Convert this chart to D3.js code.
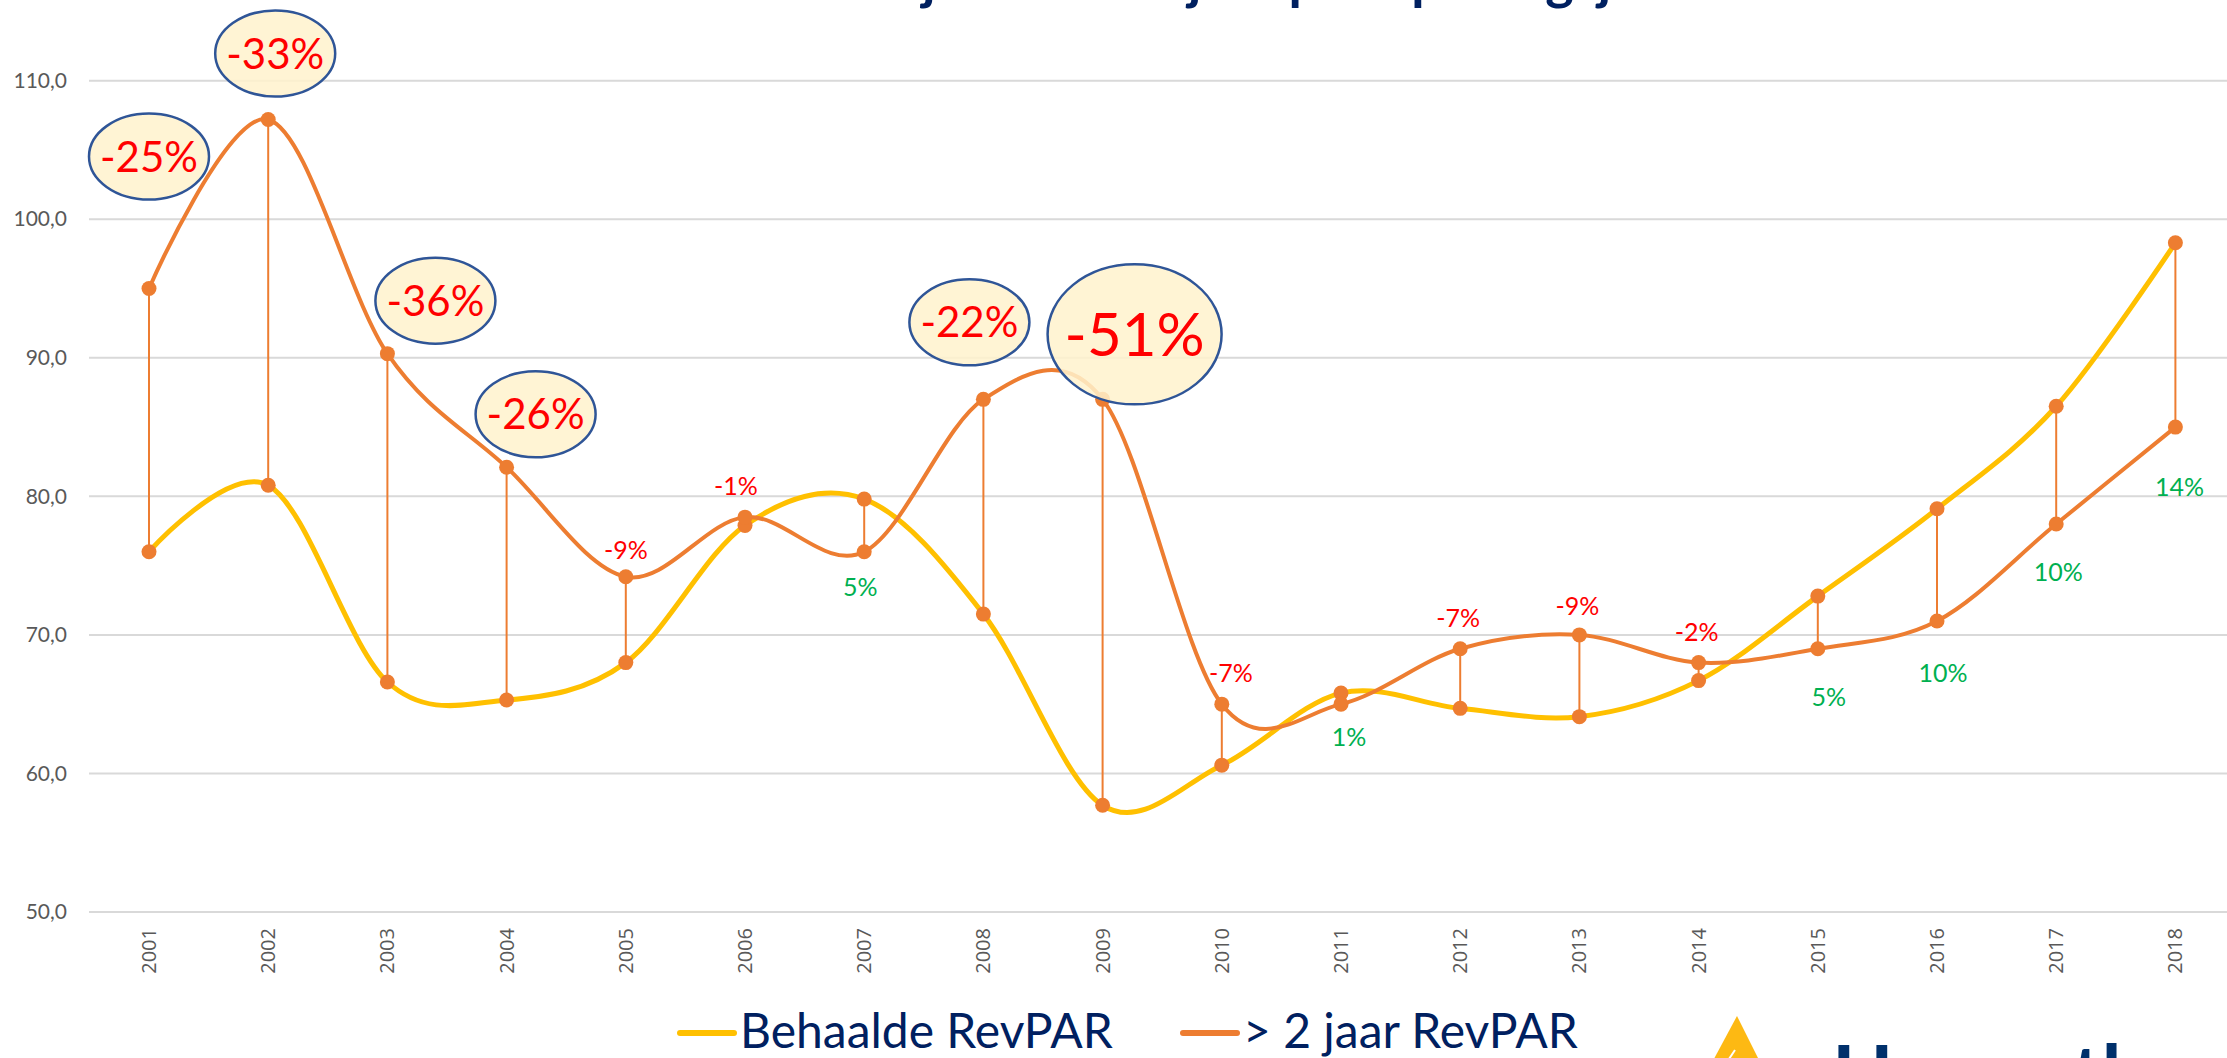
<!DOCTYPE html>
<html>
<head>
<meta charset="utf-8">
<script src="https://cdn.jsdelivr.net/npm/d3@7"></script>
<style>
body { margin: 0; background: #fff; overflow: hidden; }
svg { display: block; }
</style>
</head>
<body>
<script>
// data
var jaren = ["2001", "2002", "2003", "2004", "2005", "2006", "2007", "2008", "2009",
	"2010", "2011", "2012", "2013", "2014", "2015", "2016", "2017", "2018"];
var behaald = [76.0, 80.8, 66.6, 65.3, 68.0, 77.9, 79.8, 71.5, 57.7,
	60.6, 65.8, 64.7, 64.1, 66.7, 72.8, 79.1, 86.5, 98.3];
var tweeJaar = [95.0, 107.2, 90.3, 82.1, 74.2, 78.5, 76.0, 87.0, 87.0,
	65.0, 65.0, 69.0, 70.0, 68.0, 69.0, 71.0, 78.0, 85.0];
var verschil = ["-25%", "-33%", "-36%", "-26%", "-9%", "-1%", "5%", "-22%", "-51%",
	"-7%", "1%", "-7%", "-9%", "-2%", "5%", "10%", "10%", "14%"];
var yTicks = [50, 60, 70, 80, 90, 100, 110];
var reeksen = ["Behaalde RevPAR", "> 2 jaar RevPAR"];

// where each label sits relative to the orange point: [dx, dy, kind]
// kind 0 = plain label, 1 = ellipse callout, 2 = big ellipse callout
var labelPlek = [[0, -132, 1], [7, -66, 1], [48, -53, 1], [29, -53, 1], [0, -27, 0], [-9, -31, 0],
	[-4, 35, 0], [-14, -77, 1], [32, -65, 2], [9, -31, 0], [8, 33, 0], [-2, -31, 0],
	[-2, -29, 0], [-2, -31, 0], [11, 48, 0], [6, 52, 0], [2, 48, 0], [4, 60, 0]];

var W = 2227, H = 1058;
var svg = d3.select("body").append("svg").attr("width", W).attr("height", H);

var x = d3.scaleBand().domain(jaren).range([89.4, 89.4 + 18 * 119.2]);
var y = d3.scaleLinear().domain([50, 110]).range([912, 80.7]);
var cx = function(d, i) { return x(jaren[i]) + x.bandwidth() / 2; };

var orange = "#ED7D31", yellow = "#FFC000", navy = "#002060";

// title, mostly above the top edge (as in the reference)
svg.append("text")
	.attr("x", 1120).attr("y", -1)
	.attr("text-anchor", "middle")
	.attr("font-family", "Lato, sans-serif").attr("font-weight", 700).attr("font-size", 54)
	.attr("fill", navy)
	.text("RevPAR eerste jaar vs. > 2 jaar per openingsjaar");

// gridlines + y labels
var grid = svg.append("g");
grid.selectAll("line").data(yTicks).enter().append("line")
	.attr("x1", 89).attr("x2", W)
	.attr("y1", function(d) { return y(d); }).attr("y2", function(d) { return y(d); })
	.attr("stroke", "#D9D9D9").attr("stroke-width", 2);

var fmt = function(d) { return d3.format(".1f")(d).replace(".", ","); };
var yAxis = svg.append("g").attr("transform", "translate(67,0)")
	.call(d3.axisLeft(y).tickValues(yTicks).tickFormat(fmt).tickSize(0).tickPadding(0));
yAxis.select(".domain").remove();
yAxis.selectAll("text")
	.attr("font-family", "Lato, sans-serif").attr("font-size", 21).attr("fill", "#595959");

// x labels, rotated
var xAxis = svg.append("g").attr("transform", "translate(0,928)")
	.call(d3.axisBottom(x).tickSize(0).tickPadding(0));
xAxis.select(".domain").remove();
xAxis.selectAll("text")
	.attr("transform", "rotate(-90)")
	.attr("text-anchor", "end")
	.attr("x", 0).attr("y", 0).attr("dy", "0.35em")
	.attr("font-family", "'Open Sans', sans-serif").attr("font-size", 20).attr("fill", "#595959");

// smoothed lines
var line = d3.line()
	.x(cx)
	.y(function(d) { return y(d); })
	.curve(d3.curveCardinal.tension(0));

svg.append("path").datum(behaald)
	.attr("d", line).attr("fill", "none")
	.attr("stroke", yellow).attr("stroke-width", 5).attr("stroke-linecap", "round");

svg.append("path").datum(tweeJaar)
	.attr("d", line).attr("fill", "none")
	.attr("stroke", orange).attr("stroke-width", 4).attr("stroke-linecap", "round");

// drop lines between the two series
svg.append("g").selectAll("line").data(jaren).enter().append("line")
	.attr("x1", cx).attr("x2", cx)
	.attr("y1", function(d, i) { return y(behaald[i]); })
	.attr("y2", function(d, i) { return y(tweeJaar[i]); })
	.attr("stroke", orange).attr("stroke-width", 2);

var dots = svg.append("g");
[behaald, tweeJaar].forEach(function(reeks) {
	dots.selectAll(null).data(reeks).enter().append("circle")
		.attr("cx", cx)
		.attr("cy", function(d) { return y(d); })
		.attr("r", 7.5)
		.attr("fill", orange);
});

// percentage labels
var labels = svg.append("g");
verschil.forEach(function(txt, i) {
	var p = labelPlek[i];
	var lx = cx(null, i) + p[0];
	var ly = y(tweeJaar[i]) + p[1];
	var neg = txt.charAt(0) == "-";
	if (p[2] > 0) {
		var big = p[2] == 2;
		labels.append("ellipse")
			.attr("cx", lx).attr("cy", ly)
			.attr("rx", big ? 87 : 60).attr("ry", big ? 70 : 43)
			.attr("fill", "#FFF2CC").attr("fill-opacity", 0.85)
			.attr("stroke", "#2F5597").attr("stroke-width", 2.5);
	}
	labels.append("text")
		.attr("x", lx).attr("y", ly)
		.attr("dy", "0.36em")
		.attr("text-anchor", "middle")
		.attr("font-family", "Lato, sans-serif")
		.attr("font-size", p[2] == 2 ? 60 : (p[2] == 1 ? 42 : 25))
		.attr("fill", neg ? "#FF0000" : "#00B050")
		.text(txt);
});

// legend
var legend = svg.append("g");
var legX = [680, 1183];
[yellow, orange].forEach(function(c, i) {
	legend.append("line")
		.attr("x1", legX[i]).attr("x2", legX[i] + 54)
		.attr("y1", 1033).attr("y2", 1033)
		.attr("stroke", c).attr("stroke-width", 6).attr("stroke-linecap", "round");
	legend.append("text")
		.attr("x", legX[i] + 60).attr("y", 1048)
		.attr("font-family", "Lato, sans-serif").attr("font-size", 48)
		.attr("fill", navy)
		.text(reeksen[i]);
});

// logo, cut off by the bottom edge
var logo = svg.append("g");
logo.append("path")
	.attr("d", "M1708,1070 L1737,1016 L1764,1070 Z")
	.attr("fill", "#FDB913");
logo.append("line")
	.attr("x1", 1727).attr("y1", 1062).attr("x2", 1735).attr("y2", 1050)
	.attr("stroke", "#fff").attr("stroke-width", 2);
logo.append("text")
	.attr("x", 1832).attr("y", 1103)
	.attr("font-family", "Lato, sans-serif").attr("font-weight", 700).attr("font-size", 80)
	.attr("fill", "#00306B")
	.text("Horwath");
</script>
</body>
</html>
